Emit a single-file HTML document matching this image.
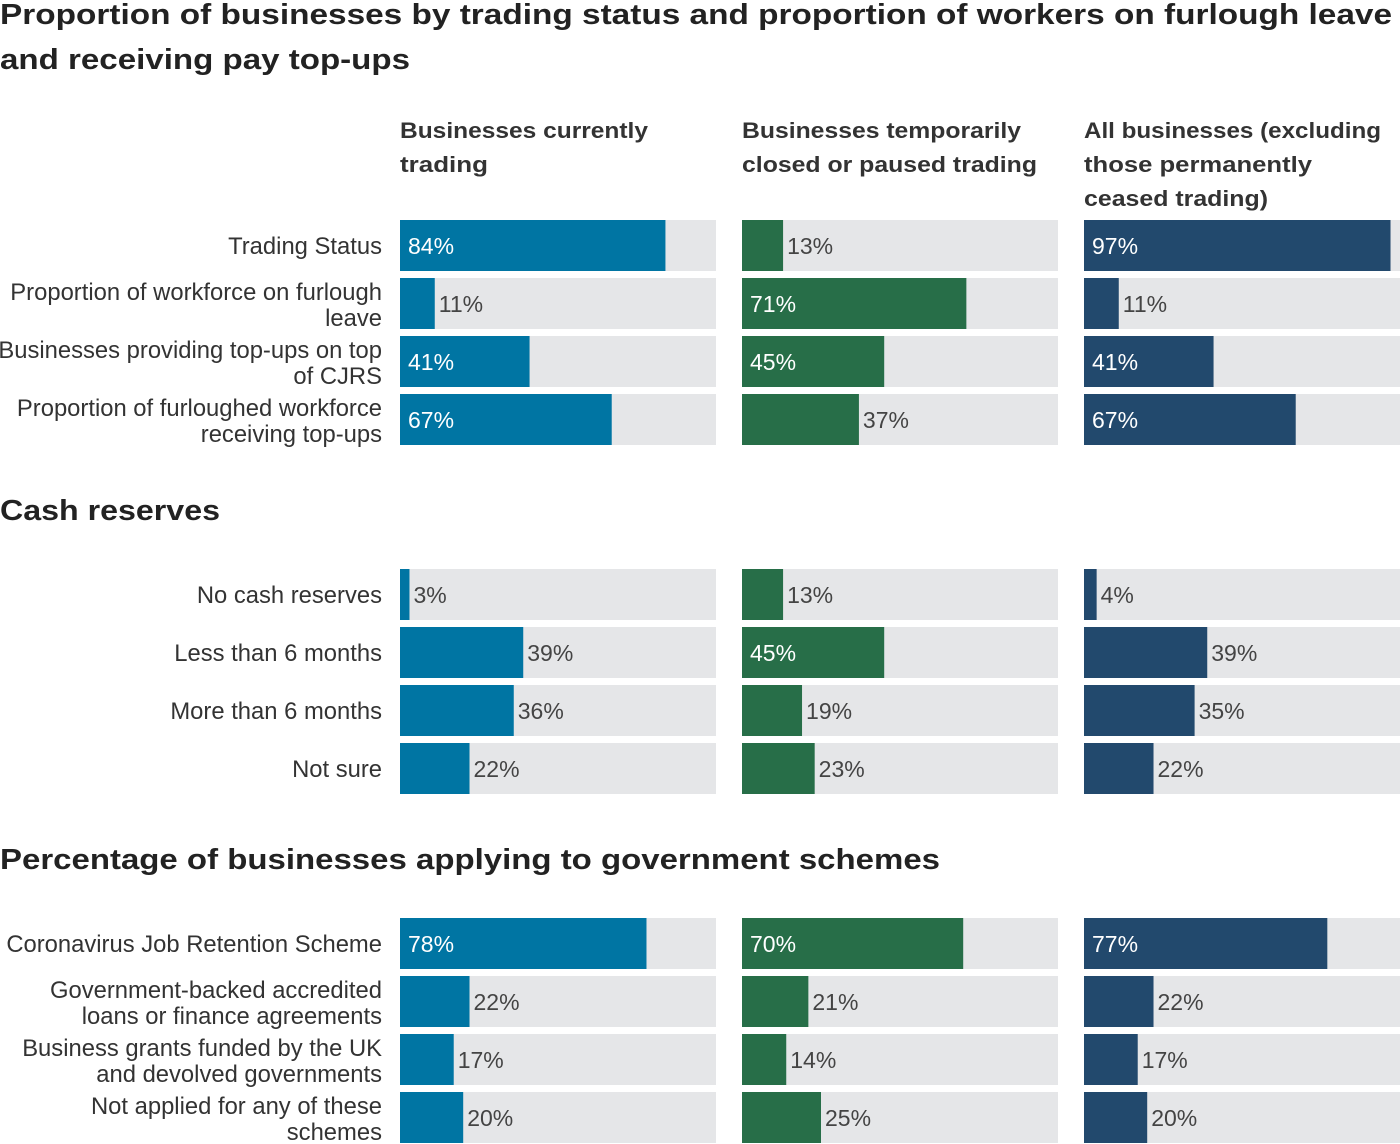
<!DOCTYPE html>
<html><head><meta charset="utf-8"><style>
body{margin:0;width:1400px;height:1144px;overflow:hidden;background:#fff;font-family:"Liberation Sans",sans-serif;}
svg{display:block}
</style></head><body>
<svg id="chart" width="1400" height="1144" xmlns="http://www.w3.org/2000/svg">
<g font-family="Liberation Sans, sans-serif" font-weight="bold" fill="#222">
<text x="0" y="24" font-size="29" textLength="1392" lengthAdjust="spacingAndGlyphs">Proportion of businesses by trading status and proportion of workers on furlough leave</text>
<text x="0" y="69" font-size="29" textLength="410" lengthAdjust="spacingAndGlyphs">and receiving pay top-ups</text>
<text x="0" y="520" font-size="29" textLength="220" lengthAdjust="spacingAndGlyphs">Cash reserves</text>
<text x="0" y="869" font-size="29" textLength="940" lengthAdjust="spacingAndGlyphs">Percentage of businesses applying to government schemes</text>
<g font-size="22" fill="#333">
<text x="400" y="138" textLength="248" lengthAdjust="spacingAndGlyphs">Businesses currently</text>
<text x="400" y="172" textLength="88" lengthAdjust="spacingAndGlyphs">trading</text>
<text x="742" y="138" textLength="279" lengthAdjust="spacingAndGlyphs">Businesses temporarily</text>
<text x="742" y="172" textLength="295" lengthAdjust="spacingAndGlyphs">closed or paused trading</text>
<text x="1084" y="138" textLength="297" lengthAdjust="spacingAndGlyphs">All businesses (excluding</text>
<text x="1084" y="172" textLength="228" lengthAdjust="spacingAndGlyphs">those permanently</text>
<text x="1084" y="206" textLength="184" lengthAdjust="spacingAndGlyphs">ceased trading)</text>
</g></g>
<g id="bars"></g>
</svg>
<script>
const categories1 = [["Trading Status"],["Proportion of workforce on furlough","leave"],["Businesses providing top-ups on top","of CJRS"],["Proportion of furloughed workforce","receiving top-ups"]];
const categories2 = [["No cash reserves"],["Less than 6 months"],["More than 6 months"],["Not sure"]];
const categories3 = [["Coronavirus Job Retention Scheme"],["Government-backed accredited","loans or finance agreements"],["Business grants funded by the UK","and devolved governments"],["Not applied for any of these","schemes"]];
const tradingValues = [[84,11,41,67],[3,39,36,22],[78,22,17,20]];
const closedValues = [[13,71,45,37],[13,45,19,23],[70,21,14,25]];
const allValues = [[97,11,41,67],[4,39,35,22],[77,22,17,20]];
const seriesNames = ["trading","closed","all"];
const colors = ["#0075a3","#276e48","#22496d"];
const colX = [400,742,1084];
const barW = 316, barH = 51, step = 58;
const groupTop = [220,569,918];
const xScale = v => v/100*barW;
const g = document.getElementById('bars');
const NS = "http://www.w3.org/2000/svg";
function mk(tag, attrs){const e=document.createElementNS(NS,tag);for(const k in attrs)e.setAttribute(k,attrs[k]);return e;}
const cats=[categories1,categories2,categories3];
const series=[tradingValues,closedValues,allValues];
for(let gi=0;gi<3;gi++){
  for(let r=0;r<4;r++){
    const y=groupTop[gi]+r*step;
    const lines=cats[gi][r];
    const t=mk('text',{x:382,'text-anchor':'end','font-size':23.8,fill:'#333'});
    
    
    if(lines.length===1){t.setAttribute('y',y+34);t.textContent=lines[0];}
    else{lines.forEach((l,i)=>{const s=mk('tspan',{x:382,y:y+22+i*26});s.textContent=l;t.appendChild(s);});}
    g.appendChild(t);
    for(let c=0;c<3;c++){
      const v=series[c][gi][r];
      const bg=mk('rect',{x:colX[c],y:y,width:barW,height:barH,fill:'#e5e6e8'});
      
      
      g.appendChild(bg);
      const b=mk('rect',{x:colX[c],y:y,width:xScale(v),height:barH,fill:colors[c]});
      
      
      g.appendChild(b);
      const inside=v>=40;
      const lt=mk('text',{x:inside?colX[c]+8:colX[c]+xScale(v)+4,y:y+34,'font-size':23,fill:inside?'#fff':'#444'});
      
      
      lt.textContent=v+'%';
      g.appendChild(lt);
    }
  }
}
</script>
</body></html>
